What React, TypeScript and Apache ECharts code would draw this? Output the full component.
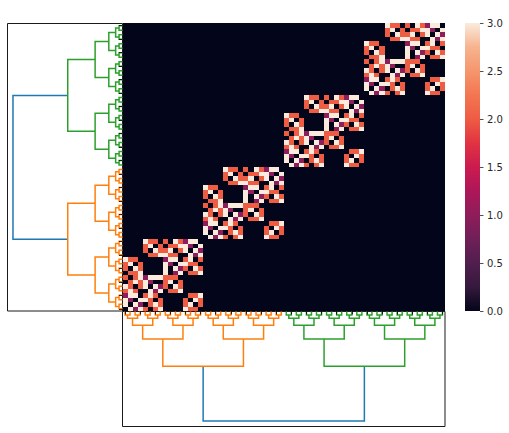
import React, { useEffect, useRef } from "react";
import * as echarts from "echarts";

const tickLabelsColorbar = [0, 0.5, 1, 1.5, 2, 2.5, 3];
const mergeHeights = [1, 2, 4, 8, 16, 32];
const leafCount = 64;
const blockSize = 16;
const blockCount = 4;
// one diagonal block, top row first, left column first (symmetric about its main diagonal)
const tileAB = ["3220", "2302", "2032", "0223"];
const tileAC = ["2032", "0223", "2302", "3220"];
const tileAD = ["1330", "3103", "3031", "0313"];
const tileBC = ["1330", "3103", "3031", "3013"];
const tileBD = ["2302", "3220", "2032", "0223"];
const tileCC = ["2220", "2302", "2032", "0223"];
const tileDD = ["0223", "2032", "2302", "3220"];
const rocket = ["#03051a","#35193e","#511e4d","#701f57","#8e1d5b","#ad1759","#cb1b4f","#e13342","#ee5c44","#f37651","#f5966d","#f6b48f","#faebdd"];
const linkColors = { root: "#1f77b4", first: "#ff7f0e", second: "#2ca02c" };

function buildBlock(): number[][] {
  const m = Array.from({ length: 16 }, () => new Array(16).fill(0));
  const put = (t: string[], r0: number, c0: number) => {
    t.forEach((row, r) => row.split("").forEach((ch, c) => {
      m[r0 + r][c0 + c] = +ch;
      m[c0 + c][r0 + r] = +ch;
    }));
  };
  put(tileAB, 0, 4); put(tileAC, 0, 8); put(tileAD, 0, 12);
  put(tileBC, 4, 8); put(tileBD, 4, 12);
  put(tileCC, 8, 8); put(tileDD, 12, 12);
  return m;
}

function heatData() {
  const m = buildBlock();
  const out: number[][] = [];
  const filled = new Map<string, number>();
  for (let k = 0; k < blockCount; k++) {
    for (let r = 0; r < blockSize; r++) for (let c = 0; c < blockSize; c++) {
      filled.set(`${k * blockSize + c},${k * blockSize + blockSize - 1 - r}`, m[r][c]);
    }
  }
  for (let x = 0; x < leafCount; x++) for (let y = 0; y < leafCount; y++) {
    out.push([x, y, filled.get(`${x},${y}`) ?? 0]);
  }
  return out;
}

type P = (number | null)[];
function buildLinks() {
  const seg: Record<string, P[]> = { root: [], first: [], second: [] };
  const walk = (lo: number, hi: number, level: number): [number, number] => {
    if (hi - lo === 1) return [5 + 10 * lo, 0];
    const mid = (lo + hi) / 2;
    const a = walk(lo, mid, level - 1);
    const b = walk(mid, hi, level - 1);
    const h = mergeHeights[level - 1];
    const key = hi - lo === leafCount ? "root" : lo < leafCount / 2 ? "first" : "second";
    seg[key].push([a[0], a[1]], [a[0], h], [b[0], h], [b[0], b[1]], [null, null]);
    return [(a[0] + b[0]) / 2, h];
  };
  walk(0, leafCount, mergeHeights.length);
  return seg;
}

function renderCell(params: any, api: any) {
  const c = api.coord([api.value(0), api.value(1)]);
  const s = api.size([1, 1]);
  const x0 = Math.round(c[0] - s[0] / 2);
  const x1 = Math.round(c[0] + s[0] / 2);
  const y0 = Math.round(c[1] - s[1] / 2);
  const y1 = Math.round(c[1] + s[1] / 2);
  return { type: "rect", shape: { x: x0, y: y0, width: x1 - x0, height: y1 - y0 }, style: { fill: api.visual("color") } };
}

export default function App() {
  const ref = useRef<HTMLDivElement>(null);
  useEffect(() => {
    document.body.style.margin = "0";
    const chart = echarts.init(ref.current!, undefined, { renderer: "svg" });
    const cats = Array.from({ length: leafCount }, (_, i) => String(i));
    const seg = buildLinks();
    const swap = (a: P[]) => a.map(p => [p[1], p[0]]);
    const dkeys = Object.keys(seg);
    const tick = { show: true, alignWithLabel: true, interval: 2, length: 3.5, lineStyle: { color: "#000", width: 0.8 } };
    const dendroSeries = (xi: number, rotate: boolean) => dkeys.map(k => ({
      type: "line", xAxisIndex: xi, yAxisIndex: xi, showSymbol: false, silent: true, clip: false,
      data: rotate ? swap(seg[k]) : seg[k], connectNulls: false, z: 2,
      lineStyle: { color: (linkColors as any)[k], width: 1.5, join: "miter" },
    }));
    const hide = { show: false };
    chart.setOption({
      animation: false,
      textStyle: { fontFamily: "DejaVu Sans" },
      grid: [
        { left: 122.5, top: 23, width: 322.5, height: 288 },
        { left: 7.5, top: 23.5, width: 115, height: 287.5, show: true, borderColor: "#1a1a1a", borderWidth: 1, backgroundColor: "#fff" },
        { left: 122.5, top: 311.5, width: 322.5, height: 115, show: true, borderColor: "#1a1a1a", borderWidth: 1, backgroundColor: "#fff" },
        { left: 465, top: 23, width: 15, height: 288 },
      ],
      xAxis: [
        { type: "category", gridIndex: 0, data: cats, z: 6, axisTick: tick, axisLine: hide, axisLabel: hide, splitLine: hide },
        { type: "value", gridIndex: 1, min: 0, max: 33.6, inverse: true, ...hideAxis() },
        { type: "value", gridIndex: 2, min: 0, max: 640, ...hideAxis() },
        { type: "category", gridIndex: 3, data: ["bar"], axisTick: hide, axisLine: hide, axisLabel: hide },
      ],
      yAxis: [
        { type: "category", gridIndex: 0, data: cats, z: 6, axisTick: tick, axisLine: hide, axisLabel: hide, splitLine: hide },
        { type: "value", gridIndex: 1, min: 0, max: 640, ...hideAxis() },
        { type: "value", gridIndex: 2, min: 0, max: 33.6, inverse: true, ...hideAxis() },
        {
          type: "value", gridIndex: 3, position: "right", min: 0, max: 3, interval: 0.5,
          axisLine: hide, splitLine: hide,
          axisTick: { show: true, length: 3.5, lineStyle: { color: "#262626", width: 0.8 } },
          axisLabel: { show: true, margin: 7, fontSize: 10, color: "#262626", fontFamily: "DejaVu Sans", formatter: (v: number) => tickLabelsColorbar.includes(v) ? v.toFixed(1) : "" },
        },
      ],
      visualMap: { show: false, seriesIndex: 0, dimension: 2, min: 0, max: 3, inRange: { color: rocket } },
      series: [
        { type: "custom", xAxisIndex: 0, yAxisIndex: 0, data: heatData(), silent: true, z: 3, renderItem: renderCell, encode: { x: 0, y: 1 } },
        ...dendroSeries(1, true),
        ...dendroSeries(2, false),
        {
          type: "bar", xAxisIndex: 3, yAxisIndex: 3, data: [3], barWidth: "100%", silent: true,
          itemStyle: { color: { type: "linear", x: 0, y: 1, x2: 0, y2: 0, colorStops: rocket.map((c, i) => ({ offset: i / (rocket.length - 1), color: c })) } },
        },
      ],
    });
    return () => chart.dispose();
  }, []);
  return <div ref={ref} style={{ width: 509, height: 433 }} />;
}

function hideAxis() {
  return { axisLine: { show: false }, axisTick: { show: false }, axisLabel: { show: false }, splitLine: { show: false } };
}
